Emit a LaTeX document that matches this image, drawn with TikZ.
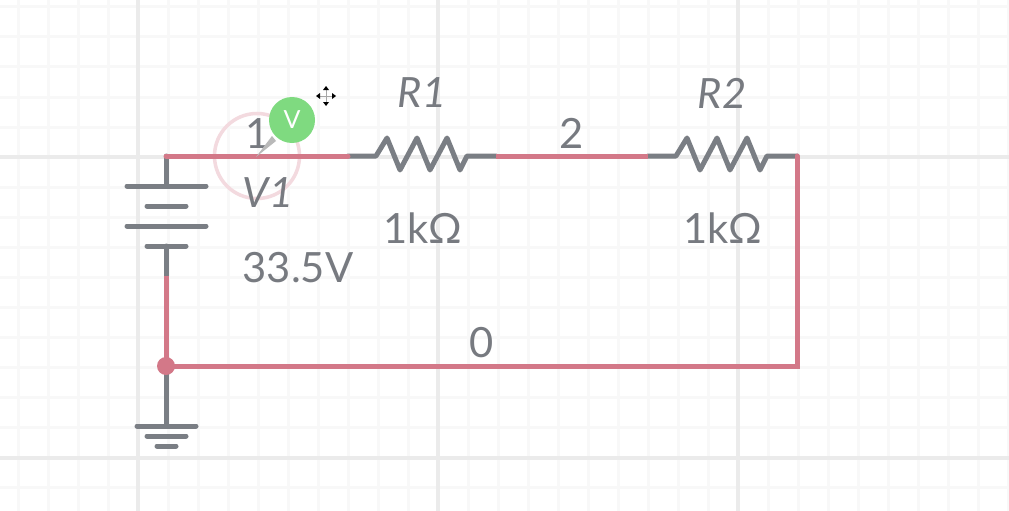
\documentclass[tikz,border=0pt]{standalone}
\usepackage{fontspec}
\setmainfont{Lato}
\definecolor{wirered}{HTML}{D37888}
\definecolor{wiregray}{HTML}{7A7E84}
\definecolor{txtgray}{HTML}{777A80}
\definecolor{minorgrid}{HTML}{F8F8F8}
\definecolor{majorgrid}{HTML}{EBEBEB}
\definecolor{greenv}{HTML}{7FDA80}
\definecolor{ringpink}{HTML}{F3DADF}
\tikzset{
 redwire/.style={draw=wirered,line width=5pt,line cap=round,line join=miter},
 graywire/.style={draw=wiregray,line width=5pt,line cap=round,line join=round},
 lab/.style={text=txtgray,font=\fontsize{41.7}{42}\selectfont,inner sep=0pt,anchor=center},
 ilab/.style={lab,font=\fontsize{41.7}{42}\selectfont\itshape},
}
\begin{document}
\begin{tikzpicture}[x=1pt,y=-1pt]
\useasboundingbox (0,0) rectangle (1009,511);
\fill[white] (0,0) rectangle (1009,511);
% grid
\foreach \x in {18,48,...,1008}{\draw[minorgrid,line width=3pt] (\x,0) -- (\x,511);}
\foreach \y in {7,37,...,510}{\draw[minorgrid,line width=3pt] (0,\y) -- (1009,\y);}
\foreach \x in {138,438,738}{\draw[majorgrid,line width=3.5pt] (\x,0) -- (\x,511);}
\foreach \y in {157,458}{\draw[majorgrid,line width=3.5pt] (0,\y) -- (1009,\y);}
% named points
\coordinate (bt) at (166,156);
\coordinate (b1) at (166,186);
\coordinate (b4) at (166,246);
\coordinate (bb) at (166,276);
\coordinate (j) at (166,366);
\coordinate (g) at (166,426);
\coordinate (r1a) at (348,156);
\coordinate (r1b) at (496,156);
\coordinate (r2a) at (648,156);
\coordinate (r2b) at (797,156);
\coordinate (c) at (797,366);
% probe ring (under wires)
\node[circle,draw=ringpink,line width=3.5pt,minimum size=85pt,inner sep=0pt] (ring) at (257,156) {};
% gray parts
\draw[graywire] (bt) -- (b1);
\draw[graywire] (127,186) -- (206,186);
\draw[graywire] (147,206) -- (186,206);
\draw[graywire] (127,226) -- (206,226);
\draw[graywire] (147,246) -- (186,246);
\draw[graywire] (b4) -- (bb);
\draw[graywire] (j) -- (g);
\draw[graywire] (137,426) -- (196,426);
\draw[graywire] (147,436) -- (186,436);
\draw[graywire] (157,446) -- (176,446);
\draw[graywire] (r1a) -- (376,156) -- (387,138) -- (400,170) -- (417,138) -- (430,170) -- (447,138) -- (460,170) -- (467,156) -- (r1b);
\draw[graywire] (r2a) -- (676,156) -- (687,138) -- (700,170) -- (717,138) -- (730,170) -- (747,138) -- (760,170) -- (767,156) -- (r2b);
% red wires
\draw[redwire,line cap=butt] (bb) -- (j);
\draw[redwire] (166,156) -- (r1a);
\draw[redwire,line cap=butt] (r1b) -- (r2a);
\draw[redwire] (j) -- (c) -- (r2b);
\node[circle,fill=wirered,minimum size=18pt,inner sep=0pt] (dot) at (j) {};
% labels
\node[lab] (n1) at (258,134) {1};
\node[lab] (n2) at (572,133) {2};
\node[lab] (n0) at (482,343) {0};
\node[ilab] (v1) at (268,193) {V1};
\node[lab] (v1v) at (298,268) {33.5V};
\node[ilab] (r1) at (422,93) {R1};
\node[lab] (r1v) at (423,228) {1kΩ};
\node[ilab] (r2) at (722,93) {R2};
\node[lab] (r2v) at (723,228) {1kΩ};
% probe
\fill[gray!55] (256,157) -- (272,136) -- (276,141) -- cycle;
\node[circle,fill=greenv,minimum size=46pt,inner sep=0pt] (probe) at (292,120) {};
\node[text=white,font=\fontsize{25}{25}\selectfont,inner sep=0pt] (pv) at (292,120) {V};
% cursor
\coordinate (m) at (326,96);
\draw[black!35,line width=.8pt] (319,96) -- (333,96) (326,89) -- (326,103);
\fill[black] (316,96) -- (320,93) -- (320,99) -- cycle (336,96) -- (332,93) -- (332,99) -- cycle
 (326,86) -- (323,90) -- (329,90) -- cycle (326,106) -- (323,102) -- (329,102) -- cycle;
\end{tikzpicture}
\end{document}
